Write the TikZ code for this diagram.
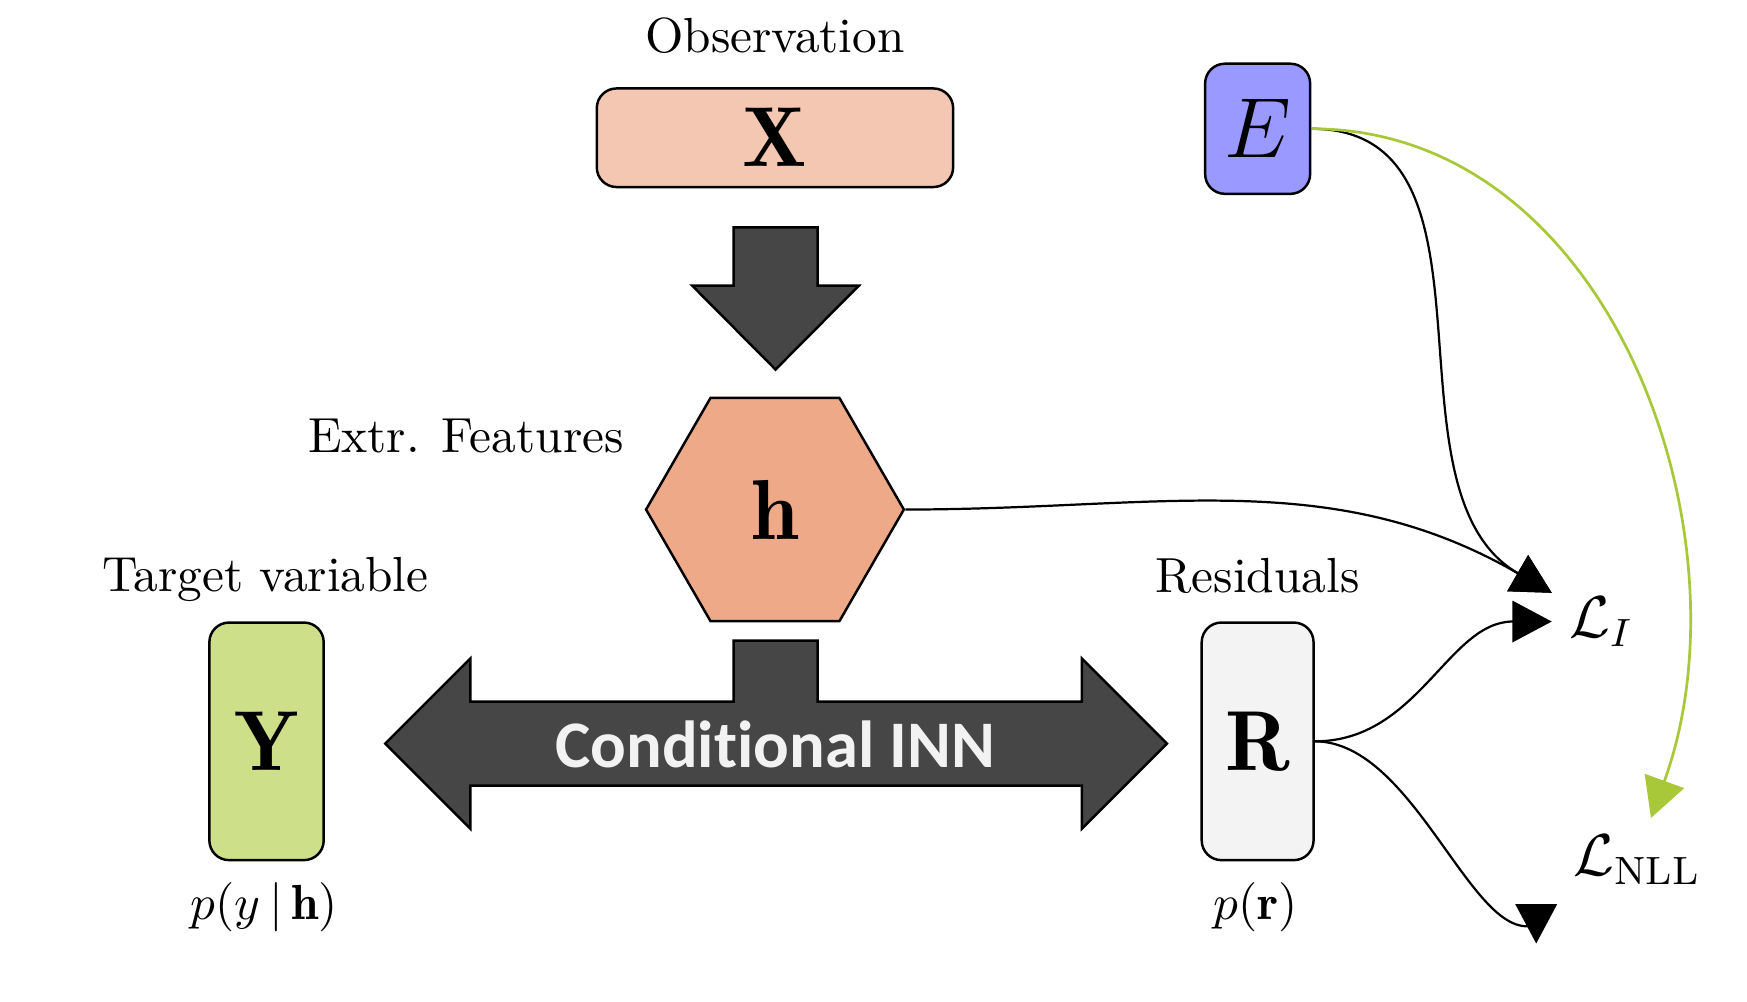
\documentclass[tikz,border=0pt]{standalone}
\usepackage{fontspec}
\newfontfamily\innfont[Ligatures=NoCommon]{Carlito}
\usetikzlibrary{shapes.geometric,arrows.meta,calc}
\definecolor{xfill}{RGB}{244,199,178}
\definecolor{hfill}{RGB}{238,169,137}
\definecolor{yfill}{RGB}{205,224,137}
\definecolor{rfill}{RGB}{243,243,243}
\definecolor{efill}{RGB}{153,153,255}
\definecolor{blockgray}{RGB}{70,70,70}
\definecolor{inntext}{RGB}{242,242,242}
\definecolor{nllgreen}{RGB}{168,200,58}
\begin{document}
\begin{tikzpicture}[x=0.2272pt,y=0.2272pt,
  box/.style={draw=black, line width=0.5pt, rounded corners=4pt, inner sep=0pt},
  hexa/.style={draw=black, line width=0.5pt, regular polygon, regular polygon sides=6, inner sep=0pt, minimum size=52.3pt, fill=hfill},
  lbl/.style={anchor=base, inner sep=0pt},
  loss/.style={font=\large},
  blockarrow/.style={draw=black, line width=0.5pt, fill=blockgray, line join=miter},
  tipT/.style={-{Triangle[length=8pt,width=8.4pt]}},
  conn/.style={draw=black, line width=0.45pt, tipT},
  gconn/.style={draw=nllgreen, line width=0.55pt, -{Triangle[length=8pt,width=8.4pt,fill=nllgreen]}}
]
\useasboundingbox (0,0) rectangle (1560,894);

% block arrows
\draw[blockarrow] (655,691) -- (730,691) -- (730,639) -- (767,639) -- (692.5,564) -- (618,639) -- (655,639) -- cycle;
\draw[blockarrow] (344,230) -- (420,306) -- (420,267.5) -- (655,267.5) -- (655,322) -- (730,322) -- (730,267.5)
  -- (966,267.5) -- (966,306) -- (1042,230) -- (966,154) -- (966,192.5) -- (420,192.5) -- (420,154) -- cycle;
\node[inner sep=0pt, text=inntext, font=\innfont\bfseries\fontsize{13.5}{16}\selectfont] (inn) at (692,229) {Conditional INN};

% nodes
\node[box, fill=xfill, minimum width=72.3pt, minimum height=20pt] (X) at (692,771) {\LARGE$\mathbf{X}$};
\node[lbl] (obs) at (692,847) {Observation};
\node[hexa] (h) at (692,439) {\LARGE$\mathbf{h}$};
\node[lbl] (feat) at (416,490) {Extr. Features};
\node[box, fill=yfill, minimum width=23.2pt, minimum height=48.2pt] (Y) at (238,232) {\LARGE$\mathbf{Y}$};
\node[lbl] (target) at (237,366) {Target variable};
\node[lbl] (py) at (236,73) {$p(y\,|\,\mathbf{h})$};
\node[box, fill=rfill, minimum width=22.7pt, minimum height=48.2pt] (R) at (1123,232) {\LARGE$\mathbf{R}$};
\node[lbl] (res) at (1123,364.5) {Residuals};
\node[lbl] (pr) at (1121,73) {$p(\mathbf{r})$};
\node[box, fill=efill, minimum width=21.3pt, minimum height=26.4pt] (E) at (1123,779) {\LARGE$E$};
\node[loss] (LI) at (1430,339) {$\mathcal{L}_I$};
\node[loss] (LNLL) at (1462,126) {$\mathcal{L}_{\mathrm{NLL}}$};

\coordinate (nlltip) at ($(LNLL.south west)+(-18,-37)$);
\coordinate (nllin) at ($(nlltip)+(0,17)$);

% connectors
\draw[conn] (E.east) to[out=0,in=150] (LI.150);
\draw[conn] (h.east) to[out=0,in=150] (LI.150);
\draw[conn] (R.east) to[out=0,in=180] (LI.west);
\draw[conn] (R.east) .. controls +(90,0) and ($(nllin)+(-56,-20)$) .. (nllin) -- (nlltip);
\draw[gconn] (E.east) to[out=0,in=70] (LNLL.72);
\end{tikzpicture}
\end{document}
